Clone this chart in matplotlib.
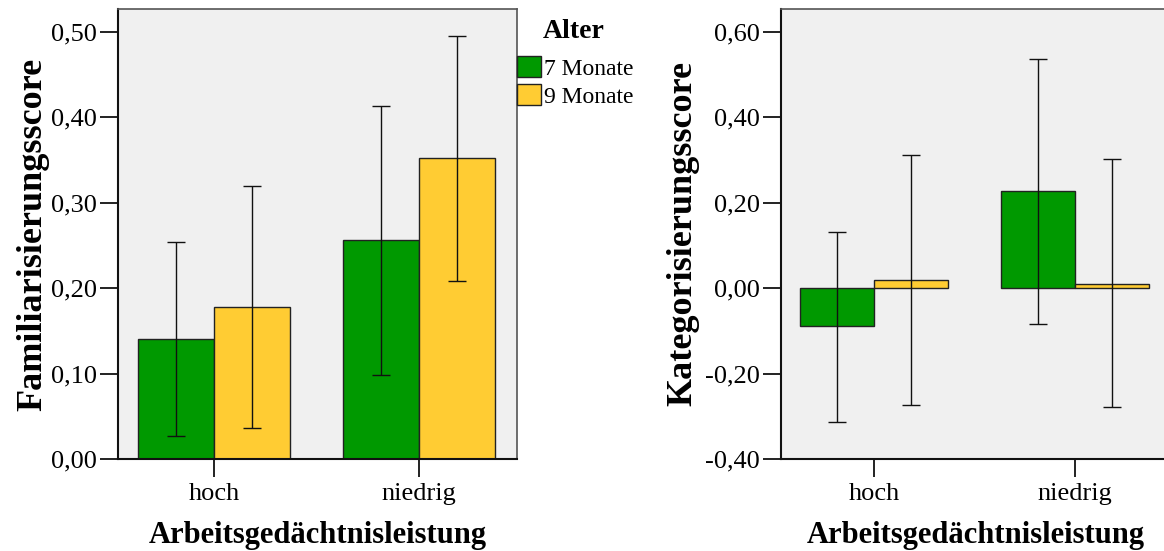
import numpy as np
import matplotlib
matplotlib.use("Agg")
import matplotlib.pyplot as plt
from matplotlib.patches import Patch

plt.rcParams['font.family'] = ['Liberation Serif', 'DejaVu Serif']

# data
categories = ["hoch", "niedrig"]
groups = ["7 Monate", "9 Monate"]

fam_mean = [[0.140, 0.256], [0.178, 0.352]]
fam_lo = [[0.027, 0.098], [0.036, 0.209]]
fam_hi = [[0.254, 0.413], [0.320, 0.495]]

kat_mean = [[-0.089, 0.227], [0.019, 0.010]]
kat_lo = [[-0.314, -0.084], [-0.274, -0.279]]
kat_hi = [[0.132, 0.536], [0.311, 0.302]]

fam_ticks = [0.0, 0.1, 0.2, 0.3, 0.4, 0.5]
kat_ticks = [-0.4, -0.2, 0.0, 0.2, 0.4, 0.6]

colors = ["#009900", "#ffcc33"]
bg = "#f0f0f0"
W, H = 1164, 551


def fmt(v):
    return ("%.2f" % v).replace(".", ",")


def draw(ax, means, lo, hi, ticks, ylim, xlim, ylabel, ypad):
    ax.set_facecolor(bg)
    x = np.arange(len(categories))
    w = 0.37
    for g in range(len(groups)):
        pos = x + (g - 0.5) * w
        m = np.array(means[g])
        ax.bar(pos, m, width=w, color=colors[g], edgecolor="#222222",
               linewidth=1.0, zorder=2)
        err = [m - np.array(lo[g]), np.array(hi[g]) - m]
        ax.errorbar(pos, m, yerr=err, fmt="none", ecolor="#111111",
                    elinewidth=1.0, capsize=6.5, capthick=1.0, zorder=3)
    ax.set_xlim(*xlim)
    ax.set_ylim(*ylim)
    ax.set_yticks(ticks)
    ax.set_yticklabels([fmt(t) for t in ticks], fontsize=19)
    ax.set_xticks(x)
    ax.set_xticklabels(categories, fontsize=19)
    ax.tick_params(axis="both", direction="out", length=13, width=1.3,
                   color="#111111", pad=2)
    ax.tick_params(axis="x", pad=4)
    for s in ["left", "bottom"]:
        ax.spines[s].set_linewidth(1.5)
        ax.spines[s].set_color("#111111")
    for s in ["top", "right"]:
        ax.spines[s].set_linewidth(1.2)
        ax.spines[s].set_color("#555555")
    ax.set_ylabel(ylabel, fontsize=26, fontweight="bold", labelpad=ypad)
    ax.set_xlabel("Arbeitsgedächtnisleistung", fontsize=22,
                  fontweight="bold", labelpad=12)


fig = plt.figure(figsize=(W / 100, H / 100), dpi=100)

ax1 = fig.add_axes([118 / W, (H - 459) / H, 399 / W, 450 / H])
draw(ax1, fam_mean, fam_lo, fam_hi, fam_ticks, (0, 0.527), (-0.468, 1.478),
     "Familiarisierungsscore", 1)

ax2 = fig.add_axes([781 / W, (H - 459) / H, 390 / W, 450 / H])
draw(ax2, kat_mean, kat_lo, kat_hi, kat_ticks, (-0.4, 0.654), (-0.463, 1.478),
     "Kategorisierungsscore", 4)

handles = [Patch(facecolor=c, edgecolor="#222222", linewidth=1.0) for c in colors]
fig.legend(handles, groups, loc="upper left",
           bbox_to_anchor=(517 / W, (H - 56) / H),
           frameon=False, fontsize=17,
           handlelength=1.0, handleheight=1.0, handletextpad=0.15,
           labelspacing=0.18, borderpad=0.0, borderaxespad=0.0)
fig.text(574 / W, (H - 31) / H, "Alter", fontsize=20, fontweight="bold",
         ha="center", va="center")

fig.savefig("out.png", dpi=100, facecolor="white")
